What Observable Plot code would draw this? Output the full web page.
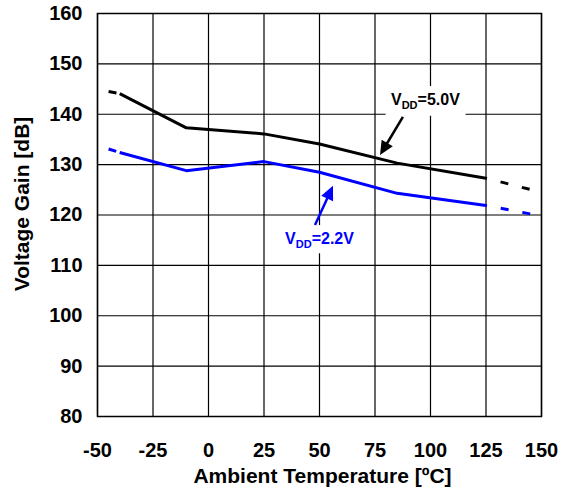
<!DOCTYPE html>
<html><head><meta charset="utf-8">
<script src="https://cdn.jsdelivr.net/npm/d3@7"></script>
<script src="https://cdn.jsdelivr.net/npm/@observablehq/plot@0.6"></script>
<style>body{margin:0;background:#fff}</style>
</head><body><div id="chart"></div>
<script>
// measured points
const temps = [-40, -10, 25, 50, 85, 125];
const gain50 = [144.1, 137.3, 136.1, 134.1, 130.3, 127.3];
const gain22 = [132.4, 128.8, 130.6, 128.5, 124.3, 121.9];
// dashed extrapolations
const tempsLow = [-45, -40];
const gain50Low = [144.5, 144.1];
const gain22Low = [133.1, 132.4];
const tempsHigh = [125, 150];
const gain50High = [127.3, 124.5];
const gain22High = [121.9, 119.8];
// axes
const xTicks = [-50, -25, 0, 25, 50, 75, 100, 125, 150];
const yTicks = [80, 90, 100, 110, 120, 130, 140, 150, 160];
const xTitle = "Ambient Temperature [ºC]";
const yTitle = "Voltage Gain [dB]";
// annotations (data units)
const labelText = ["VDD=5.0V", "VDD=2.2V"];
const labelColor = ["#000000", "#0000ff"];
const labelX = [97.7, 50.0];
const labelY = [141.8, 114.2];
const boxX1 = [80.0, 33.5], boxX2 = [116.0, 67.0];
const boxY1 = [139.6, 112.3], boxY2 = [145.5, 117.9];
const arrowX1 = [87.8, 48.2], arrowY1 = [139.4, 117.9];
const arrowX2 = [77.5, 56.3], arrowY2 = [131.8, 125.7];

const zip = (xs, ys) => xs.map((x, i) => ({x, y: ys[i]}));
const labels = labelText.map((t, i) => ({t, x: labelX[i], y: labelY[i], c: labelColor[i]}));
const boxes = boxX1.map((v, i) => ({x1: v, x2: boxX2[i], y1: boxY1[i], y2: boxY2[i]}));
const FONT = "'Liberation Sans', Arial, sans-serif";
const fmt = d => String(d);

const plot = Plot.plot({
  width: 563, height: 488,
  marginLeft: 97, marginRight: 22, marginTop: 13, marginBottom: 72,
  style: {fontFamily: FONT, fontWeight: "bold", color: "#000", background: "#fff"},
  x: {domain: [-50, 150]},
  y: {domain: [80, 160]},
  marks: [
    Plot.gridX({ticks: xTicks, stroke: "#000", strokeOpacity: 1, strokeWidth: 1.2}),
    Plot.gridY({ticks: yTicks, stroke: "#000", strokeOpacity: 1, strokeWidth: 1.2}),
    Plot.rect(boxes, {x1: "x1", x2: "x2", y1: "y1", y2: "y2", fill: "#fff"}),
    Plot.frame({stroke: "#000", strokeWidth: 1.5}),
    Plot.line(zip(temps, gain50), {x: "x", y: "y", stroke: "#000", strokeWidth: 3, strokeLinecap: "butt"}),
    Plot.line(zip(temps, gain22), {x: "x", y: "y", stroke: "#0000ff", strokeWidth: 3, strokeLinecap: "butt"}),
    Plot.line(zip(tempsLow, gain50Low), {x: "x", y: "y", stroke: "#000", strokeWidth: 3, strokeLinecap: "butt", strokeDasharray: "8,14"}),
    Plot.line(zip(tempsLow, gain22Low), {x: "x", y: "y", stroke: "#0000ff", strokeWidth: 3, strokeLinecap: "butt", strokeDasharray: "8,14"}),
    Plot.line(zip(tempsHigh, gain50High), {x: "x", y: "y", stroke: "#000", strokeWidth: 3, strokeLinecap: "butt", strokeDasharray: "8,14", strokeDashoffset: 7}),
    Plot.line(zip(tempsHigh, gain22High), {x: "x", y: "y", stroke: "#0000ff", strokeWidth: 3, strokeLinecap: "butt", strokeDasharray: "8,14", strokeDashoffset: 7}),
    Plot.axisX({ticks: xTicks, tickFormat: fmt, tickSize: 0, tickPadding: 26, label: null, fontSize: 20, fontWeight: "bold", fontFamily: FONT}),
    Plot.axisY({ticks: yTicks, tickFormat: fmt, tickSize: 0, tickPadding: 15, label: null, fontSize: 20, fontWeight: "bold", fontFamily: FONT}),
    Plot.text([xTitle], {frameAnchor: "bottom", dx: 3, dy: 66, textAnchor: "middle", lineAnchor: "bottom", fontSize: 21, fontWeight: "bold", fill: "#000"}),
    Plot.text([yTitle], {frameAnchor: "left", rotate: -90, dx: -75, dy: -11, textAnchor: "middle", lineAnchor: "middle", fontSize: 21, fontWeight: "bold", fill: "#000"}),
    Plot.text(labels, {x: "x", y: "y", text: "t", fill: "c", textAnchor: "middle", lineAnchor: "bottom", fontSize: 16, fontWeight: "bold"})
  ]
});

// arrows through the plot's scales, with filled heads
const sx = plot.scale("x"), sy = plot.scale("y");
const svg = d3.select(plot);
arrowX1.forEach((_, i) => {
  const S = [sx.apply(arrowX1[i]), sy.apply(arrowY1[i])];
  const T = [sx.apply(arrowX2[i]), sy.apply(arrowY2[i])];
  const dx = T[0] - S[0], dy = T[1] - S[1], len = Math.hypot(dx, dy);
  const ux = dx / len, uy = dy / len, nx = -uy, ny = ux;
  const L = 14, W = 6.5;
  const B = [T[0] - L * ux, T[1] - L * uy];
  svg.append("line").attr("x1", S[0]).attr("y1", S[1]).attr("x2", B[0] + 2 * ux).attr("y2", B[1] + 2 * uy)
    .attr("stroke", labelColor[i]).attr("stroke-width", 2.5);
  svg.append("polygon").attr("points", [T, [B[0] + W * nx, B[1] + W * ny], [B[0] - W * nx, B[1] - W * ny]].map(p => p.join(",")).join(" "))
    .attr("fill", labelColor[i]);
});

// subscript "DD"
svg.selectAll("text").filter(function() { return /^VDD=/.test(this.textContent) && this.childElementCount === 0; })
  .each(function() {
    const rest = this.textContent.slice(3);
    const t = d3.select(this).text("");
    t.append("tspan").text("V");
    t.append("tspan").attr("font-size", 11).attr("dy", 4).text("DD");
    t.append("tspan").attr("dy", -4).text(rest);
  });

document.getElementById("chart").appendChild(plot);
</script>
</body></html>
